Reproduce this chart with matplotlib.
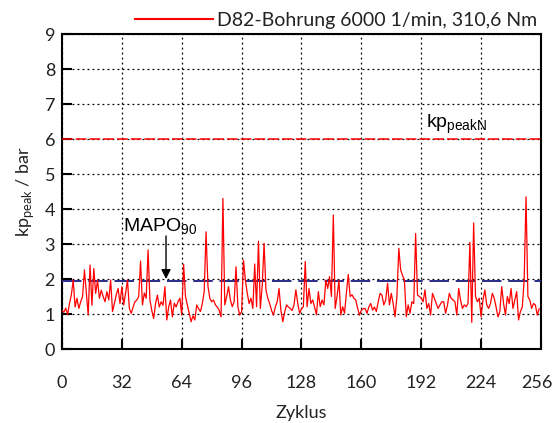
import numpy as np
import matplotlib.pyplot as plt
import matplotlib.transforms as mtransforms

# kp_peak per Zyklus
kp_peak = [
    1.10, 1.05, 1.17, 0.98, 1.30, 1.55, 1.97, 1.20, 1.45, 1.16, 1.35, 1.50, 2.26, 1.60, 0.97, 2.40,
    1.25, 2.30, 1.59, 1.97, 1.45, 1.68, 1.50, 1.35, 1.64, 1.40, 1.97, 1.07, 1.30, 1.55, 1.73, 1.30,
    1.78, 1.26, 1.60, 1.97, 1.16, 1.02, 1.20, 1.35, 1.40, 1.50, 2.51, 1.26, 1.60, 1.45, 2.83, 1.40,
    1.10, 0.87, 1.30, 1.54, 1.20, 1.35, 1.25, 1.78, 0.83, 1.20, 1.40, 0.92, 1.31, 1.20, 1.35, 1.45,
    0.97, 2.42, 1.50, 1.26, 1.02, 0.78, 0.95, 0.83, 1.26, 1.15, 1.07, 1.30, 1.64, 3.35, 1.80, 1.45,
    1.35, 1.40, 1.26, 1.20, 1.11, 0.92, 4.30, 1.26, 1.50, 1.78, 1.40, 1.21, 1.35, 2.35, 1.20, 0.97,
    1.07, 2.54, 1.97, 1.60, 1.30, 1.45, 1.16, 2.43, 1.21, 3.08, 1.16, 1.80, 3.02, 1.69, 1.45, 1.30,
    1.10, 0.97, 1.20, 1.35, 1.73, 1.10, 0.78, 1.05, 1.26, 1.20, 1.16, 1.10, 1.26, 1.69, 1.30, 1.02,
    1.15, 1.21, 2.50, 1.21, 1.73, 1.30, 1.40, 1.20, 0.98, 1.64, 1.21, 1.40, 1.26, 1.97, 1.73, 2.07,
    1.50, 3.83, 1.16, 1.50, 1.97, 0.97, 1.21, 1.02, 1.60, 2.13, 1.50, 1.55, 1.45, 1.40, 1.16, 0.97,
    1.11, 1.15, 1.16, 1.02, 1.20, 1.30, 1.11, 1.20, 1.07, 1.35, 1.59, 1.54, 1.26, 1.40, 1.88, 1.26,
    1.59, 1.30, 0.92, 1.50, 2.88, 2.26, 2.10, 1.97, 0.92, 1.26, 1.02, 1.35, 1.30, 3.30, 1.54, 1.50,
    1.45, 1.35, 1.69, 1.16, 1.30, 0.97, 1.59, 1.45, 1.30, 1.16, 1.26, 1.35, 1.35, 1.02, 1.25, 1.59,
    1.45, 1.40, 1.35, 0.97, 1.73, 1.40, 1.16, 1.26, 1.21, 1.30, 3.05, 0.76, 3.60, 1.50, 1.35, 1.45,
    0.92, 1.40, 1.69, 1.26, 1.16, 1.30, 1.59, 1.45, 1.20, 0.92, 1.07, 1.78, 1.30, 0.97, 1.50, 1.30,
    1.73, 1.16, 1.40, 1.64, 0.83, 1.07, 1.20, 1.97, 4.35, 1.50, 1.40, 1.16, 1.30, 1.26, 0.97, 1.15,
]
zyklus = np.arange(len(kp_peak))

kp_peak_n = 6.0
mapo_90 = 1.93

x_ticks = [0, 32, 64, 96, 128, 160, 192, 224, 256]
y_ticks = [0, 1, 2, 3, 4, 5, 6, 7, 8, 9]
legend_label = "D82-Bohrung 6000 1/min, 310,6 Nm"

ui_font = "Lato"
note_font = "Liberation Sans"
txt_col = "#222222"

fig = plt.figure(figsize=(5.53, 4.23), dpi=100)
ax = fig.add_axes([0.1121, 0.1749, 0.8662, 0.7447])

ax.grid(True, color="black", linestyle=(0, (1.5, 2.5)), linewidth=0.9)
ax.set_axisbelow(True)

ax.axhline(kp_peak_n, color="#ff0000", linewidth=1.1, linestyle=(0, (7, 2)), zorder=3)
ax.axhline(mapo_90, color="#2a2a8a", linewidth=1.4, linestyle=(0, (10, 3.5)), zorder=3)
ax.plot(zyklus, kp_peak, color="#ff0000", linewidth=0.9, label=legend_label, zorder=4)

ax.set_xlim(0, 256)
ax.set_ylim(0, 9)
ax.set_xticks(x_ticks)
ax.set_yticks(y_ticks)
ax.tick_params(direction="in", length=7, width=1.5, top=False, right=False)
ax.tick_params(axis="x", pad=19)
ax.tick_params(axis="y", pad=5)
for lbl in ax.get_xticklabels() + ax.get_yticklabels():
    lbl.set_fontfamily(ui_font)
    lbl.set_fontsize(13)
    lbl.set_color(txt_col)
# last x label is pushed left a little so it stays inside the figure
last = ax.get_xticklabels()[-1]
last.set_transform(last.get_transform() + mtransforms.ScaledTranslation(-4 / 100, 0, fig.dpi_scale_trans))
for sp in ax.spines.values():
    sp.set_linewidth(1.5)

ax.set_xlabel("Zyklus", fontfamily=ui_font, fontsize=13, color=txt_col, labelpad=10)
ax.set_ylabel(r"kp$_{\mathregular{peak}}$ / bar", fontfamily=ui_font, fontsize=13,
              color=txt_col, labelpad=6)

# annotations
ax.annotate("", xy=(55.6, 2.0), xytext=(55.6, 3.23),
            arrowprops=dict(arrowstyle="-|>", color="black", lw=1.0, mutation_scale=14,
                            shrinkA=0, shrinkB=0), zorder=5)
ax.text(32.5, 3.35, r"MAPO$_{\mathregular{90}}$", fontfamily=note_font, fontsize=14,
        ha="left", va="baseline", zorder=5)
ax.text(194.5, 6.31, r"kp$_{\mathregular{peakN}}$", fontfamily=note_font, fontsize=14,
        ha="left", va="baseline", zorder=5)

leg = ax.legend(loc="lower right", bbox_to_anchor=(0.992, 1.015), frameon=False,
                handlelength=4, handletextpad=0.2, borderpad=0, borderaxespad=0,
                prop={"family": ui_font, "size": 14})
for t in leg.get_texts():
    t.set_color(txt_col)
for h in leg.get_lines():
    h.set_linewidth(1.5)

plt.savefig("out.png", dpi=100)
